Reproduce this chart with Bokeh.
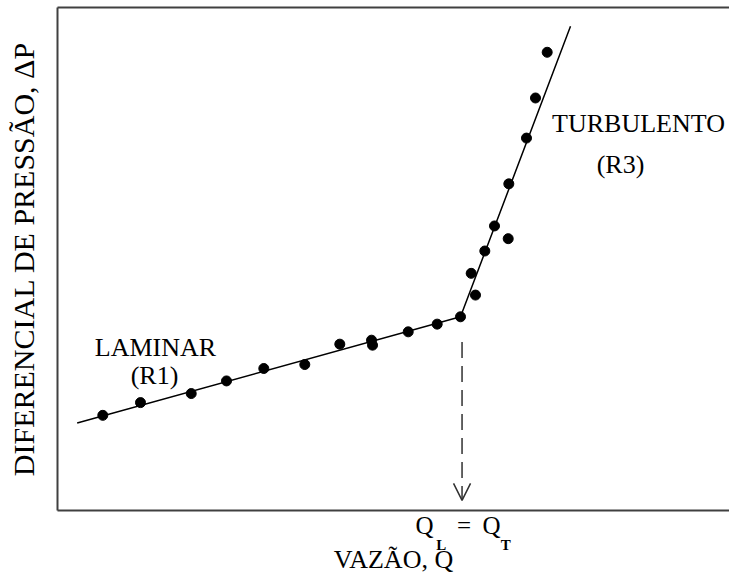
from bokeh.plotting import figure
from bokeh.models import LinearAxis, FixedTicker, Label, Arrow, OpenHead, Range1d
from bokeh.embed import file_html
from bokeh.resources import INLINE

# Measured data (arbitrary units: flow Q vs pressure drop dP)
lam_q = [6.74, 12.35, 19.90, 25.15, 30.70, 36.80, 42.01, 46.73, 46.88, 52.19, 56.50, 59.97]
lam_dp = [18.92, 21.45, 23.25, 25.76, 28.23, 29.02, 33.07, 33.86, 32.87, 35.52, 37.05, 38.51]
turb_q = [62.20, 61.56, 63.59, 65.03, 67.07, 67.16, 69.79, 71.13, 72.87]
turb_dp = [42.83, 47.15, 51.59, 56.57, 54.04, 64.94, 74.04, 82.01, 91.10]

# fitted regime lines (laminar start, transition, turbulent end)
fit_q = [2.93, 59.97, 76.34]
fit_dp = [17.39, 38.51, 96.27]

# transition marker
q_transition = 60.2
marker_top = 33.5
marker_bottom = 2.0

# "Q_L = Q_T" annotation pieces under the axis
main_tick_pos = [54.61, 60.49, 64.58]
main_tick_text = ["Q", "=", "Q"]
sub_tick_pos = [57.1, 66.7]
sub_tick_text = ["L", "T"]

FONT = "Liberation Serif"
AX_COLOR = "#404040"

p = figure(width=729, height=580, x_range=Range1d(0, 100), y_range=Range1d(0, 100),
           output_backend="svg", toolbar_location=None,
           x_axis_location=None, y_axis_location=None,
           min_border_left=57, min_border_right=0, min_border_top=7, min_border_bottom=70,
           outline_line_color=None, background_fill_color="white", border_fill_color="white")
p.grid.grid_line_color = None


def mk_axis(ticks=(), texts=(), line=True, lab_size="24px", lab_style="normal", standoff=0):
    ax = LinearAxis(ticker=FixedTicker(ticks=list(ticks), minor_ticks=[]),
                    axis_line_color=AX_COLOR if line else None, axis_line_width=2,
                    major_tick_line_color=None, minor_tick_line_color=None,
                    major_tick_in=0, major_tick_out=0, minor_tick_in=0, minor_tick_out=0,
                    major_label_standoff=standoff,
                    major_label_text_font=FONT, major_label_text_font_size=lab_size,
                    major_label_text_font_style=lab_style, major_label_text_color="black")
    if ticks:
        ax.major_label_overrides = {t: s for t, s in zip(ticks, texts)}
    else:
        ax.major_label_text_font_size = "0px"
    return ax


def set_label(ax, label, size, standoff):
    ax.axis_label = label
    ax.axis_label_text_font = FONT
    ax.axis_label_text_font_style = "normal"
    ax.axis_label_text_font_size = size
    ax.axis_label_text_color = "black"
    ax.axis_label_standoff = standoff


left = mk_axis()
set_label(left, "DIFERENCIAL DE PRESSÃO, ΔP", "30px", 18)
p.add_layout(left, "left")

below1 = mk_axis(main_tick_pos, main_tick_text, line=True, lab_size="25px", standoff=1)
p.add_layout(below1, "below")
below2 = mk_axis(sub_tick_pos, sub_tick_text, line=False, lab_size="15px", lab_style="bold", standoff=-5)
set_label(below2, "VAZÃO, Q", "26px", -11)
p.add_layout(below2, "below")

p.add_layout(mk_axis(), "above")

p.line(fit_q, fit_dp, line_color="black", line_width=1.5)
p.scatter(lam_q, lam_dp, size=10, color="black")
p.scatter(turb_q, turb_dp, size=10, color="black")

p.add_layout(Arrow(end=OpenHead(size=17, line_width=1.5, line_color="#303030"),
                   x_start=q_transition, y_start=marker_top, x_end=q_transition, y_end=marker_bottom,
                   line_dash="16 8", line_width=1.5, line_color="#303030"))


def lab(x, y, t, size="26px", align="center"):
    p.add_layout(Label(x=x, y=y, text=t, text_font=FONT, text_font_size=size,
                       text_align=align, text_baseline="alphabetic", text_color="black"))


lab(14.58, 32.47, "LAMINAR")
lab(14.43, 26.89, "(R1)")
lab(86.46, 76.89, "TURBULENTO")
lab(83.78, 68.73, "(R3)")

open("out.html", "w").write(file_html(p, INLINE))
